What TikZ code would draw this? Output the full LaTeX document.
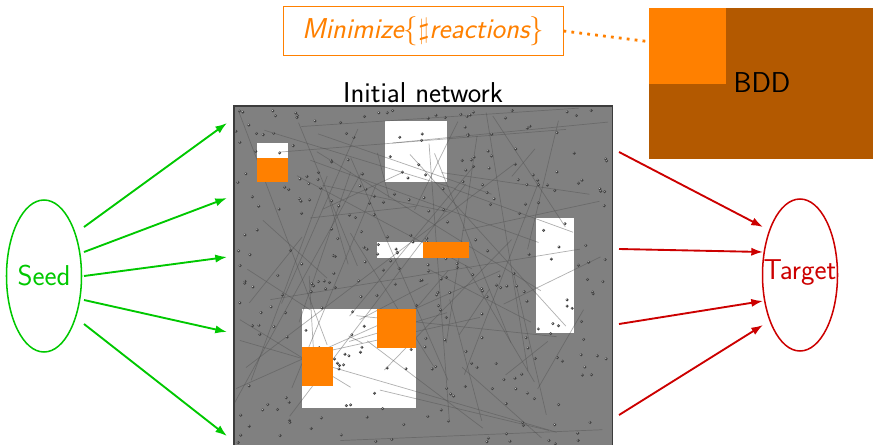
\documentclass[tikz,border=0pt]{standalone}
\usetikzlibrary{arrows.meta,shapes.geometric,calc}
\definecolor{sgreen}{RGB}{0,200,0}
\definecolor{sred}{RGB}{204,0,0}
\definecolor{sorange}{RGB}{255,128,0}
\definecolor{sbrown}{RGB}{179,89,0}
\definecolor{netgray}{RGB}{128,128,128}
\definecolor{netedge}{RGB}{60,60,60}
\definecolor{linegray}{RGB}{80,80,80}
\tikzset{
  bigtext/.style={font=\sffamily\fontsize{24.5}{28}\selectfont},
  ellnode/.style={ellipse, draw, line width=1.3pt, minimum width=75*0.03cm, minimum height=152*0.03cm, inner sep=0pt},
  greenarrow/.style={draw=sgreen, line width=1.6pt, -{Latex[length=10pt,width=7pt]}},
  redarrow/.style={draw=sred, line width=1.6pt, -{Latex[length=10pt,width=7pt]}},
  netline/.style={draw=linegray, opacity=0.45, line width=0.6pt},
  whitebox/.style={fill=white},
  orangebox/.style={fill=sorange},
  dotline/.style={draw=sorange, line width=2.4pt, dash pattern=on 2.4pt off 4.4pt},
}
\begin{document}
\begin{tikzpicture}[x=0.03cm,y=-0.03cm]
\useasboundingbox (0,0) rectangle (873,444);

% BDD
\node[fill=sbrown, anchor=north west, minimum width=224*0.03cm, minimum height=151*0.03cm, inner sep=0pt] (bdd) at (649,8) {};
\node[fill=sorange, anchor=north west, minimum width=77*0.03cm, minimum height=76*0.03cm, inner sep=0pt] (bddsq) at (649,8) {};
\node[bigtext, text=black] (bddtext) at (762,83) {BDD};

% Minimize box
\node[draw=sorange, line width=0.8pt, text=sorange, bigtext, minimum width=280*0.03cm, minimum height=49*0.03cm, inner sep=0pt] (minbox) at (423,31) {\itshape Minimize$\{\sharp$reactions$\}$};
\draw[dotline] (minbox.east) -- ($(bddsq.north west)!0.44!(bddsq.south west)$);

% Network
\node[bigtext, anchor=base] (title) at (423,102) {Initial network};
\node[fill=netgray, anchor=north west, minimum width=378*0.03cm, minimum height=340*0.03cm, inner sep=0pt] (net) at (234,106) {};
\begin{scope}
\clip (net.north west) rectangle (net.south east);
\fill[whitebox] (257,143) rectangle (288,182);
\fill[whitebox] (385,121) rectangle (447,182);
\fill[whitebox] (377,242) rectangle (423,258);
\fill[whitebox] (536,218) rectangle (574,333);
\fill[whitebox] (302,309) rectangle (416,408);
\pgfmathsetseed{11}
\foreach \i in {1,...,65}{
  \pgfmathsetmacro\xa{234+378*rnd}
  \pgfmathsetmacro\ya{106+340*rnd}
  \pgfmathsetmacro\xb{234+378*rnd}
  \pgfmathsetmacro\yb{106+340*rnd}
  \draw[netline] (\xa,\ya) -- (\xb,\yb);
}
\foreach \i in {1,...,330}{
  \pgfmathsetmacro\xa{236+374*rnd}
  \pgfmathsetmacro\ya{110+334*rnd}
  \fill[black!75] (\xa,\ya) circle (1.6);
  \fill[gray!40] (\xa-0.4,\ya-0.4) circle (0.55);
}
\fill[orangebox] (257,158) rectangle (288,182);
\fill[orangebox] (423,242) rectangle (469,258);
\fill[orangebox] (377,309) rectangle (416,348);
\fill[orangebox] (302,347) rectangle (333,386);
\end{scope}
\draw[netedge, line width=1pt] (net.south west) -- (net.north west) -- (net.north east) -- (net.south east);

% Seed
\node[ellnode, draw=sgreen] (seed) at (44,276) {};
\node[bigtext, text=sgreen] at (seed.center) {Seed};
\coordinate (s1) at (84,227);
\coordinate (s2) at (84,252);
\coordinate (s3) at (84,276);
\coordinate (s4) at (84,300);
\coordinate (s5) at (84,324);
\coordinate (g1) at (227,123);
\coordinate (g2) at (227,198);
\coordinate (g3) at (227,257);
\coordinate (g4) at (227,332);
\coordinate (g5) at (227,436);
\foreach \k in {1,...,5}{\draw[greenarrow] (s\k) -- (g\k);}

% Target
\node[ellnode, draw=sred] (target) at (800,275) {};
\node[bigtext, text=sred] at (800,273) {Target};
\coordinate (r1) at (619,152);
\coordinate (r2) at (619,249);
\coordinate (r3) at (619,324);
\coordinate (r4) at (619,415);
\coordinate (t1) at (763,227);
\coordinate (t2) at (763,252);
\coordinate (t3) at (763,301);
\coordinate (t4) at (763,325);
\foreach \k in {1,...,4}{\draw[redarrow] (r\k) -- (t\k);}
\end{tikzpicture}
\end{document}
